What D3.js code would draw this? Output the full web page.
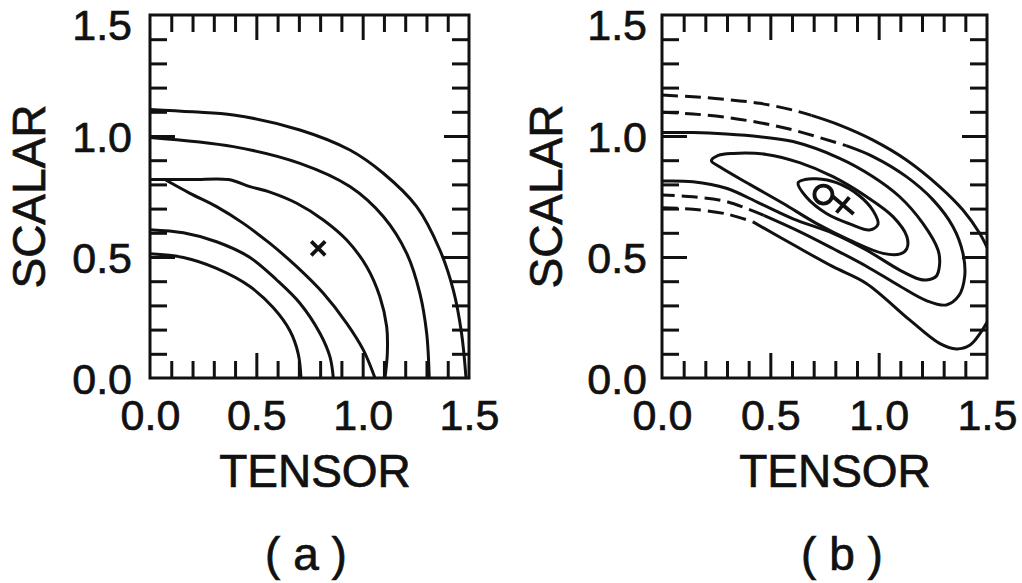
<!DOCTYPE html>
<html>
<head>
<meta charset="utf-8">
<script src="https://cdn.jsdelivr.net/npm/d3@7"></script>
<style>
  body { margin: 0; background: #fff; }
  text { font-family: "Liberation Sans", Arial, Helvetica, sans-serif; fill: #111;
         stroke: #111; stroke-width: 0.7px; }
</style>
</head>
<body>
<script>
// Tick values shared by both panels (TENSOR and SCALAR run 0 .. 1.5).
var labelTicks = [0.0, 0.5, 1.0, 1.5];
var majorTicks = [0.5, 1.0];
var minorTicks = [0.1, 0.2, 0.3, 0.4, 0.6, 0.7, 0.8, 0.9, 1.1, 1.2, 1.3, 1.4];

// Panel (a) contours, points are [tensor, scalar].
var aLevel1 = [[0, 1.11], [0.2, 1.10], [0.392, 1.087], [0.705, 1.025], [0.94, 0.942],
               [1.097, 0.846], [1.254, 0.708], [1.363, 0.529], [1.426, 0.364],
               [1.465, 0.185], [1.486, 0]];
var aLevel2 = [[0, 0.994], [0.392, 0.956], [0.705, 0.887], [0.94, 0.791], [1.097, 0.667],
               [1.207, 0.515], [1.269, 0.35], [1.301, 0.185], [1.313, 0]];
var aLevel3Outer = [[0, 0.82], [0.2, 0.82], [0.368, 0.82], [0.47, 0.791], [0.564, 0.768],
                    [0.69, 0.722], [0.815, 0.653], [0.925, 0.57], [1.019, 0.46],
                    [1.081, 0.336], [1.113, 0.212], [1.116, 0.102], [1.105, 0]];
var aLevel3Inner = [[0.07, 0.82], [0.188, 0.763], [0.313, 0.708], [0.439, 0.639],
                    [0.564, 0.556], [0.69, 0.46], [0.815, 0.35], [0.925, 0.226],
                    [1.003, 0.116], [1.058, 0]];
var aLevel4 = [[0, 0.613], [0.157, 0.60], [0.313, 0.563], [0.47, 0.498], [0.596, 0.405],
               [0.705, 0.309], [0.799, 0.185], [0.846, 0.088], [0.862, 0]];
var aLevel5 = [[0, 0.513], [0.157, 0.498], [0.313, 0.453], [0.47, 0.378], [0.58, 0.29],
               [0.658, 0.195], [0.697, 0.1], [0.71, 0]];
var aCross = [0.791, 0.536];

// Panel (b) contours.
var bInner = [[0.628, 0.807], [0.66, 0.82], [0.712, 0.823], [0.805, 0.807], [0.912, 0.752],
              [0.975, 0.69], [0.997, 0.635], [0.958, 0.612], [0.866, 0.637],
              [0.759, 0.68], [0.666, 0.748]];
var bLevel2 = [[0.228, 0.898], [0.26, 0.92], [0.328, 0.928], [0.482, 0.924], [0.635, 0.89],
               [0.789, 0.832], [0.943, 0.75], [1.066, 0.667], [1.13, 0.585], [1.13, 0.535],
               [1.1, 0.513], [1.02, 0.515], [0.866, 0.57], [0.712, 0.639], [0.558, 0.722],
               [0.405, 0.8], [0.266, 0.873]];
var bLevel3 = [[0, 1.014], [0.143, 1.014], [0.297, 1.008], [0.451, 0.997], [0.605, 0.977],
               [0.82, 0.908], [0.974, 0.832], [1.097, 0.749], [1.204, 0.639], [1.274, 0.529],
               [1.281, 0.467], [1.265, 0.42], [1.22, 0.405], [1.189, 0.408], [1.097, 0.446],
               [0.943, 0.529], [0.789, 0.598], [0.605, 0.658], [0.451, 0.722],
               [0.297, 0.784], [0.143, 0.811], [0, 0.814]];
var bLevel4UpperDash = [[0, 1.098], [0.143, 1.091], [0.297, 1.077], [0.451, 1.055],
                        [0.605, 1.025], [0.85, 0.96]];
var bLevel4Solid = [[0.85, 0.96], [0.974, 0.915], [1.128, 0.832], [1.251, 0.736],
                    [1.343, 0.625], [1.389, 0.515], [1.397, 0.419], [1.37, 0.34],
                    [1.312, 0.302], [1.22, 0.32], [1.097, 0.38], [0.943, 0.462],
                    [0.789, 0.535], [0.635, 0.605], [0.47, 0.672]];
var bLevel4LowerDash = [[0.47, 0.672], [0.297, 0.729], [0.143, 0.749], [0, 0.756]];
var bLevel5UpperDash = [[0, 1.169], [0.143, 1.162], [0.297, 1.151], [0.451, 1.135],
                        [0.605, 1.107], [0.69, 1.085]];
var bLevel5UpperSolid = [[0.69, 1.085], [0.82, 1.045], [0.974, 0.983], [1.128, 0.901],
                         [1.281, 0.791], [1.389, 0.694], [1.466, 0.598], [1.5, 0.54]];
var bLevel5LowerDash = [[0, 0.704], [0.143, 0.697], [0.297, 0.678], [0.42, 0.645]];
var bLevel5LowerSolid = [[0.42, 0.645], [0.635, 0.536], [0.789, 0.46], [0.943, 0.391],
                         [1.143, 0.24], [1.281, 0.143], [1.359, 0.12], [1.42, 0.135],
                         [1.465, 0.18], [1.5, 0.23]];
var bCircle = [0.745, 0.758];
var bPlus = [0.835, 0.715];

var ink = "#111";
var plotTop = 15, plotBottom = 378;

var svg = d3.select("body")
            .append("svg")
            .attr("width", 1022)
            .attr("height", 583);

var panels = [
    {id: "a", left: 150, right: 469, labelGap: 18, titleX: 315, tagX: 306, scalarX: 45,
     tag: "( a )", lines: [aLevel1, aLevel2, aLevel3Outer, aLevel3Inner, aLevel4, aLevel5],
     dashed: [], loops: []},
    {id: "b", left: 662, right: 987, labelGap: 15, titleX: 835, tagX: 842, scalarX: 562,
     tag: "( b )",
     lines: [bLevel3, bLevel4Solid, bLevel5UpperSolid, bLevel5LowerSolid],
     dashed: [bLevel4UpperDash, bLevel4LowerDash, bLevel5UpperDash, bLevel5LowerDash],
     loops: [bInner, bLevel2]}
];

panels.forEach(drawPanel);

function drawPanel(p) {
    var x = d3.scaleLinear().domain([0, 1.5]).range([p.left, p.right]);
    var y = d3.scaleLinear().domain([0, 1.5]).range([plotBottom, plotTop]);
    var g = svg.append("g");

    g.append("clipPath")
     .attr("id", "clip-" + p.id)
     .append("rect")
     .attr("x", p.left).attr("y", plotTop)
     .attr("width", p.right - p.left).attr("height", plotBottom - plotTop);

    // Inward ticks on all four sides, longer ones at 0.5 and 1.0
    function ticks(axis, transform, values, size) {
        var a = g.append("g")
                 .attr("transform", transform)
                 .call(axis.tickValues(values).tickSize(size).tickFormat(""));
        a.select(".domain").remove();
        a.selectAll("text").remove();
        a.selectAll("line").attr("stroke", ink).attr("stroke-width", 3);
    }
    [[minorTicks, -17], [majorTicks, -25]].forEach(function(t) {
        ticks(d3.axisBottom(x), "translate(0," + plotBottom + ")", t[0], t[1]);
        ticks(d3.axisTop(x), "translate(0," + plotTop + ")", t[0], t[1]);
        ticks(d3.axisLeft(y), "translate(" + p.left + ",0)", t[0], t[1]);
        ticks(d3.axisRight(y), "translate(" + p.right + ",0)", t[0], t[1]);
    });

    // Tick labels
    var xl = g.append("g")
              .attr("transform", "translate(0," + plotBottom + ")")
              .call(d3.axisBottom(x).tickValues(labelTicks).tickSize(0)
                      .tickPadding(21).tickFormat(d3.format(".1f")));
    xl.select(".domain").remove();
    xl.attr("font-size", 43);

    var yl = g.append("g")
              .attr("transform", "translate(" + p.left + ",0)")
              .call(d3.axisLeft(y).tickValues(labelTicks).tickSize(0)
                      .tickPadding(p.labelGap).tickFormat(d3.format(".1f")));
    yl.select(".domain").remove();
    yl.attr("font-size", 43);
    // the top label sits a little lower so it stays on the page
    yl.selectAll("text").attr("dy", "0.36em")
      .attr("y", function(d) {return d === 1.5 ? 9 : 0;});

    // Frame
    g.append("rect")
     .attr("x", p.left).attr("y", plotTop)
     .attr("width", p.right - p.left).attr("height", plotBottom - plotTop)
     .attr("fill", "none").attr("stroke", ink).attr("stroke-width", 3);

    var line = d3.line()
                 .x(function(d) {return x(d[0]);})
                 .y(function(d) {return y(d[1]);})
                 .curve(d3.curveCatmullRom.alpha(0.5));
    var loop = d3.line()
                 .x(function(d) {return x(d[0]);})
                 .y(function(d) {return y(d[1]);})
                 .curve(d3.curveCatmullRomClosed.alpha(0.5));

    var plot = g.append("g").attr("clip-path", "url(#clip-" + p.id + ")")
                .attr("fill", "none").attr("stroke", ink)
                .attr("stroke-width", 3).attr("stroke-linejoin", "round");

    plot.selectAll(".solid").data(p.lines).enter()
        .append("path").attr("class", "solid").attr("d", line);
    plot.selectAll(".dash").data(p.dashed).enter()
        .append("path").attr("class", "dash").attr("d", line)
        .attr("stroke-dasharray", "16,7");
    plot.selectAll(".loop").data(p.loops).enter()
        .append("path").attr("class", "loop").attr("d", loop);

    // Markers
    if (p.id === "a") {
        var cx = x(aCross[0]), cy = y(aCross[1]), h = 7;
        plot.append("path")
            .attr("d", "M" + (cx - h) + "," + (cy - h) + "L" + (cx + h) + "," + (cy + h) +
                       "M" + (cx - h) + "," + (cy + h) + "L" + (cx + h) + "," + (cy - h))
            .attr("stroke-width", 3.8);
    } else {
        plot.append("circle")
            .attr("cx", x(bCircle[0])).attr("cy", y(bCircle[1]))
            .attr("r", 9).attr("stroke-width", 3.8);
        plot.append("path")
            .attr("transform", "translate(" + x(bPlus[0]) + "," + y(bPlus[1]) + ") rotate(40)")
            .attr("d", "M-14,0L14,0M0,-10L0,10")
            .attr("stroke-width", 3.8);
    }

    // Axis titles and panel tag
    g.append("text")
     .attr("x", p.titleX).attr("y", 487)
     .attr("text-anchor", "middle").attr("font-size", 46)
     .text("TENSOR");
    g.append("text")
     .attr("transform", "translate(" + p.scalarX + "," + ((plotTop + plotBottom) / 2) + ") rotate(-90)")
     .attr("text-anchor", "middle").attr("font-size", 46)
     .text("SCALAR");
    g.append("text")
     .attr("x", p.tagX).attr("y", 570)
     .attr("text-anchor", "middle").attr("font-size", 46)
     .attr("xml:space", "preserve")
     .text(p.tag);
}
</script>
</body>
</html>
